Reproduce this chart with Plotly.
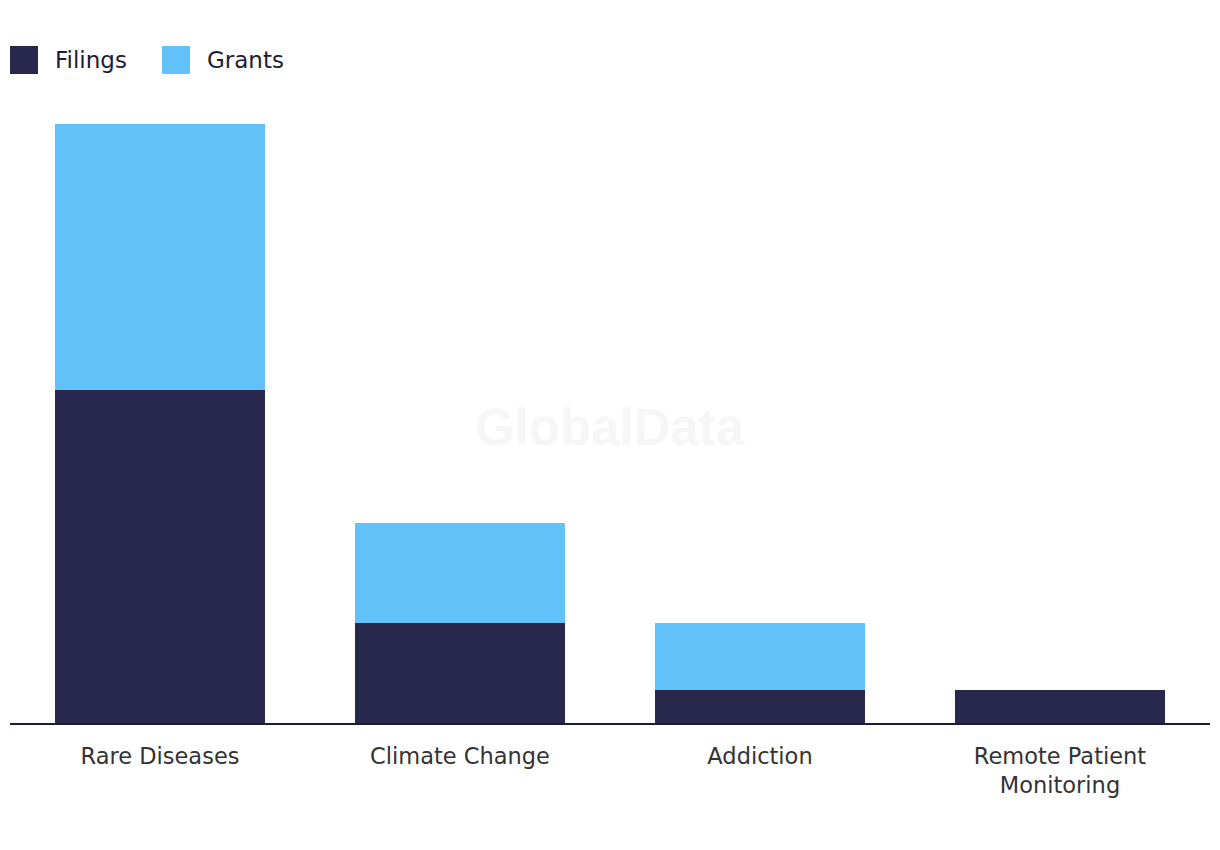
import plotly.graph_objects as go

categories = ["Rare Diseases", "Climate Change", "Addiction", "Remote Patient<br>Monitoring"]
filings = [10, 3, 1, 1]
grants = [8, 3, 2, 0]
series_names = ["Filings", "Grants"]

NAVY = "#27284b"
BLUE = "#61c1f8"
FONT = "DejaVu Sans, sans-serif"

fig = go.Figure()
fig.add_trace(go.Bar(name=series_names[0], x=categories, y=filings, marker=dict(color=NAVY, line=dict(width=0)),
                     width=0.7))
fig.add_trace(go.Bar(name=series_names[1], x=categories, y=grants, marker=dict(color=BLUE, line=dict(width=0)),
                     width=0.7))

# custom legend with large square swatches (paper coordinates)
shapes = []
annotations = []
legend_x = [0.0, 0.12667]
for name, col, x0 in zip(series_names, [NAVY, BLUE], legend_x):
    shapes.append(dict(type="rect", xref="paper", yref="paper", x0=x0, x1=x0 + 0.02333,
                       y0=1.0835, y1=1.1302, fillcolor=col, line=dict(width=0)))
    annotations.append(dict(text=name, xref="paper", yref="paper", x=x0 + 0.0355, y=1.1068,
                            xanchor="left", yanchor="middle", showarrow=False,
                            font=dict(size=23, color="#1c1d33", family=FONT)))

annotations.append(dict(text="<b>GlobalData</b>", x=0.5, y=0.494, xref="paper", yref="paper",
                        xanchor="center", yanchor="middle", showarrow=False,
                        font=dict(size=51, color="#f6f6f6", family="Liberation Sans, Arial, sans-serif")))

fig.update_layout(
    barmode="stack",
    width=1212, height=842,
    margin=dict(l=2, r=10, t=116, b=127, autoexpand=False),
    plot_bgcolor="white", paper_bgcolor="white",
    font=dict(family=FONT, size=22.5, color="#333333"),
    showlegend=False,
    xaxis=dict(showline=True, linecolor="#1c1d33", linewidth=2, ticks="", showgrid=False,
               tickfont=dict(size=22.5, color="#333333", family=FONT), ticklabelstandoff=12),
    yaxis=dict(range=[0, 18], visible=False, showgrid=False),
    shapes=shapes,
    annotations=annotations,
)

fig.write_html("out.html")
